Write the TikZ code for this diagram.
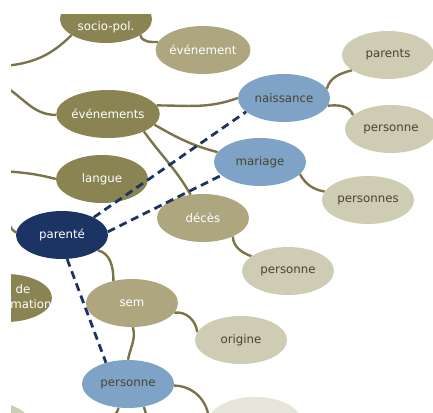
\documentclass[tikz,border=0pt]{standalone}
\usepackage{fontspec}
\setmainfont{DejaVu Sans}
\usetikzlibrary{shapes.geometric,backgrounds}

\definecolor{oliveDark}{HTML}{8A8352}
\definecolor{oliveLight}{HTML}{ADA67F}
\definecolor{leafBeige}{HTML}{CFCCB4}
\definecolor{paleBeige}{HTML}{E6E5DA}
\definecolor{topicBlue}{HTML}{7FA3C7}
\definecolor{navy}{HTML}{1B3463}
\definecolor{linkOlive}{HTML}{7B7446}
\definecolor{darkText}{HTML}{47452F}

\newcommand{\blobfont}{\fontsize{11.8}{15}\selectfont}

\tikzset{
  blob/.style={ellipse, minimum width=92pt, minimum height=48pt, inner sep=0pt,
               font=\blobfont, align=center},
  darkblob/.style={blob, fill=oliveDark, text=white},
  lightblob/.style={blob, fill=oliveLight, text=white},
  leaf/.style={blob, fill=leafBeige, text=darkText},
  paleleaf/.style={blob, fill=paleBeige, text=darkText},
  topic/.style={blob, fill=topicBlue, text=darkText},
  focus/.style={blob, fill=navy, text=white},
  caption/.style={text=white, font=\blobfont, align=center, inner sep=0pt},
  link/.style={draw=linkOlive, line width=2.4pt},
  relation/.style={draw=navy, line width=2.8pt, dash pattern=on 8pt off 5pt},
}

\begin{document}
\begin{tikzpicture}[x=1pt, y=-1pt]
  \useasboundingbox (0,0) rectangle (433,412);

  % concept blobs
  \node[darkblob]  (soc) at (106,19)  {};
  \node[caption]   (soctext) at (106,27) {socio-pol.};
  \node[lightblob] (evt) at (203,50)  {événement};
  \node[darkblob]  (evs) at (108,114) {événements};
  \node[topic]     (nai) at (284,98)  {naissance};
  \node[leaf]      (par) at (388,55)  {parents};
  \node[leaf]      (pr1) at (391,129) {personne};
  \node[topic]     (mar) at (260,162) {mariage};
  \node[leaf]      (pss) at (368,200) {personnes};
  \node[lightblob] (dec) at (203,218) {décès};
  \node[leaf]      (pr2) at (288,271) {personne};
  \node[darkblob]  (lan) at (102,179) {langue};
  \node[focus]     (pte) at (62,235)  {parenté};
  \node[darkblob]  (frm) at (6,298)   {};
  \node[caption]   (frmtext) at (31,297) {de\hspace*{16pt}\\mation};
  \node[lightblob] (sem) at (132,303) {sem};
  \node[leaf]      (ori) at (241,340) {origine};
  \node[topic]     (pr3) at (128,384) {personne};
  \node[paleleaf]  (pal) at (255,421) {};
  \node[leaf]      (blc) at (-15,425) {};

  % loose ends running off the left and bottom edges
  \coordinate (inA) at (4,66);
  \coordinate (inB) at (4,86);
  \coordinate (inC) at (4,171);
  \coordinate (inD) at (6,198);
  \coordinate (outA) at (108,425);
  \coordinate (outB) at (150,425);

  % tree links behind the blobs
  \begin{scope}[on background layer]
    \draw[link] (inA) to[out=5,in=225] (soc.205);
    \draw[link] (soc.335) to[out=-80,in=180] (evt.170);
    \draw[link] (inB) to[out=-30,in=180] (evs.181);
    \draw[link] (evs.10) to[out=0,in=200] (nai.180);
    \draw[link] (evs.-13) to[out=-30,in=165] (mar.167);
    \draw[link] (evs.-26) to[out=-54,in=120] (dec.118);
    \draw[link] (nai.12) to[out=75,in=195] (par.203);
    \draw[link] (nai.-10) to[out=5,in=110] (pr1.160);
    \draw[link] (mar.-17) to[out=-60,in=170] (pss.169);
    \draw[link] (dec.-32) to[out=-85,in=160] (pr2.158);
    \draw[link] (inC) to[out=-5,in=165] (lan.180);
    \draw[link] (inD) to[out=-70,in=150] (pte.177);
    \draw[link] (pte.-23) to[out=-15,in=90] (sem.130);
    \draw[link] (sem.-88) to[out=-75,in=80] (pr3.90);
    \draw[link] (sem.-13) to[out=10,in=95] (ori.170);
    \draw[link] (pr3.-112) to[out=-95,in=90] (outA);
    \draw[link] (pr3.-55) to[out=-80,in=95] (outB);
    \draw[link] (pr3.-2) to[out=0,in=90] (pal.180);
  \end{scope}

  % kinship relations
  \draw[relation] (pte.29) -- (nai.200);
  \draw[relation] (pte.4) -- (mar.199);
  \draw[relation] (pte.-78) -- (pr3.136);

  % white margins on the left and top
  \fill[white] (-60,-60) rectangle (11,480);
  \fill[white] (-60,-60) rectangle (480,14);
\end{tikzpicture}
\end{document}
